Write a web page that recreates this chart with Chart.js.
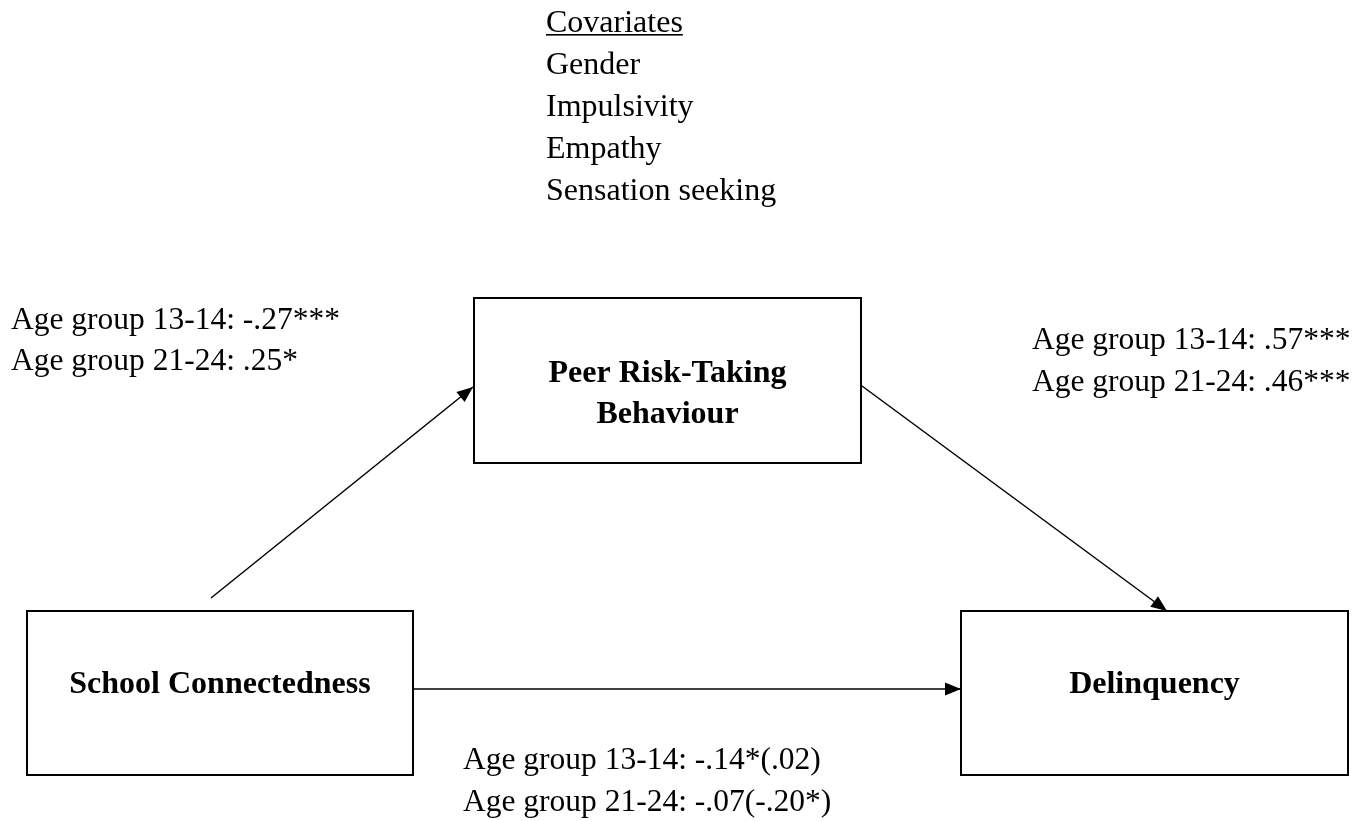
<!DOCTYPE html>
<html><head><meta charset="utf-8">
<script src="https://cdn.jsdelivr.net/npm/chart.js@4/dist/chart.umd.min.js"></script>
<style>html,body{margin:0;padding:0;background:#fff;overflow:hidden}#wrap{width:1372px;height:821px;position:relative}</style>
</head><body><div id="wrap"><canvas id="c"></canvas></div>
<script>
// ---- content ----
const covariatesTitle = "Covariates";
const covariates = ["Gender", "Impulsivity", "Empathy", "Sensation seeking"];
const nodeNames = [["Peer Risk-Taking", "Behaviour"], ["School Connectedness"], ["Delinquency"]];
const ageGroups = ["Age group 13-14", "Age group 21-24"];
const pathA = ["-.27***", ".25*"];        // School -> Peer
const pathB = [".57***", ".46***"];       // Peer -> Delinquency
const pathC = ["-.14*(.02)", "-.07(-.20*)"]; // School -> Delinquency (direct)

// ---- layout (in axis units) ----
const L = {
  boxes: [
    {x0: 474, x1: 861, y0: 298, y1: 463, base: [382, 423]},
    {x0: 27, x1: 413, y0: 611, y1: 775, base: [693]},
    {x0: 961, x1: 1348, y0: 611, y1: 775, base: [693]}
  ],
  arrows: [
    {from: [211, 598], to: [473, 387]},
    {from: [862, 386], to: [1167, 611]},
    {from: [413, 689], to: [961, 689]}
  ],
  labels: [
    {x: 11, base: [329, 370], vals: pathA},
    {x: 1032, base: [349, 391], vals: pathB},
    {x: 463, base: [769, 811], vals: pathC}
  ],
  cov: {x: 546, base: [32, 74, 116, 158, 200]}
};
const SERIF = '"Liberation Serif","Times New Roman",Times,serif';

const datasets = [];
L.boxes.forEach(b => datasets.push({
  type: 'line', data: [{x:b.x0,y:b.y0},{x:b.x1,y:b.y0},{x:b.x1,y:b.y1},{x:b.x0,y:b.y1},{x:b.x0,y:b.y0}],
  borderColor: '#000', borderWidth: 2, borderCapStyle: 'square', borderJoinStyle: 'miter',
  pointRadius: 0, fill: false, tension: 0
}));
L.arrows.forEach(a => datasets.push({
  type: 'line', data: [{x:a.from[0],y:a.from[1]},{x:a.to[0],y:a.to[1]}],
  borderColor: '#000', borderWidth: 1.5, pointRadius: 0, fill: false, tension: 0
}));

const diagramPlugin = {
  id: 'diagram',
  afterDatasetsDraw(chart) {
    const ctx = chart.ctx, sx = chart.scales.x, sy = chart.scales.y;
    const X = v => sx.getPixelForValue(v), Y = v => sy.getPixelForValue(v);
    ctx.save();
    ctx.fillStyle = '#000';
    // arrowheads
    L.arrows.forEach(a => {
      const x1 = X(a.from[0]), y1 = Y(a.from[1]), x2 = X(a.to[0]), y2 = Y(a.to[1]);
      const ang = Math.atan2(y2 - y1, x2 - x1), len = 16, hw = 6.5;
      ctx.beginPath();
      ctx.moveTo(x2, y2);
      ctx.lineTo(x2 - len*Math.cos(ang) + hw*Math.sin(ang), y2 - len*Math.sin(ang) - hw*Math.cos(ang));
      ctx.lineTo(x2 - len*Math.cos(ang) - hw*Math.sin(ang), y2 - len*Math.sin(ang) + hw*Math.cos(ang));
      ctx.closePath();
      ctx.fill();
    });
    // node names
    ctx.font = 'bold 32px ' + SERIF;
    ctx.textAlign = 'center'; ctx.textBaseline = 'alphabetic';
    L.boxes.forEach((b, i) => {
      nodeNames[i].forEach((t, j) => ctx.fillText(t, X((b.x0 + b.x1) / 2), Y(b.base[j])));
    });
    // path labels
    ctx.font = '31.5px ' + SERIF;
    ctx.textAlign = 'left';
    L.labels.forEach(l => {
      ageGroups.forEach((g, j) => ctx.fillText(g + ': ' + l.vals[j], X(l.x), Y(l.base[j])));
    });
    // covariates
    ctx.font = '32px ' + SERIF;
    const cx = X(L.cov.x);
    ctx.fillText(covariatesTitle, cx, Y(L.cov.base[0]));
    const w = ctx.measureText(covariatesTitle).width;
    ctx.fillRect(cx, Y(L.cov.base[0]) + 2, w, 1.6);
    covariates.forEach((t, j) => ctx.fillText(t, cx, Y(L.cov.base[j + 1])));
    ctx.restore();
  }
};

new Chart(document.getElementById('c'), {
  type: 'scatter',
  data: { datasets },
  options: {
    responsive: true, maintainAspectRatio: false, animation: false,
    events: [],
    layout: { padding: 0 },
    plugins: { legend: { display: false }, tooltip: { enabled: false } },
    scales: {
      x: { type: 'linear', min: 0, max: 1372, display: false },
      y: { type: 'linear', min: 0, max: 821, reverse: true, display: false }
    }
  },
  plugins: [diagramPlugin]
});
</script>
</body></html>
